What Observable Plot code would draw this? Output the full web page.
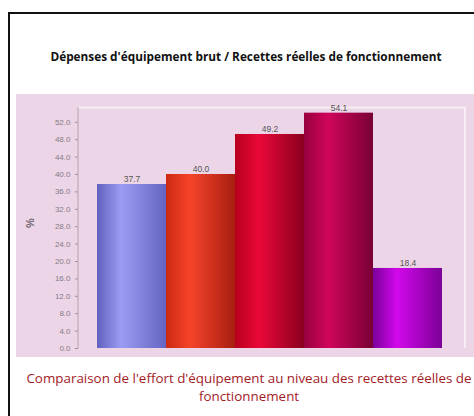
<!DOCTYPE html>
<html>
<head>
<meta charset="utf-8">
<script src="https://cdn.jsdelivr.net/npm/d3@7"></script>
<script src="https://cdn.jsdelivr.net/npm/@observablehq/plot@0.6"></script>
<style>
  html, body { margin: 0; padding: 0; background: #fff; }
  #page { position: relative; width: 474px; height: 416px; overflow: hidden; background: #fff; }
  #frame { position: absolute; left: 8px; top: 12px; width: 480px; height: 420px; border-left: 2px solid #111; border-top: 2px solid #111; box-sizing: border-box; }
  #title { position: absolute; left: 0px; width: 492px; top: 48px; text-align: center; font-family: "Open Sans", sans-serif; font-weight: bold; font-size: 11.8px; color: #111; }
  #panel { position: absolute; left: 16px; top: 94px; width: 458px; height: 263px; background: #ecd5e7; }
  #caption { position: absolute; left: 0px; width: 498px; top: 369px; text-align: center; font-family: "Open Sans", sans-serif; font-size: 13.4px; line-height: 18px; color: #a3201f; white-space: nowrap; }
</style>
</head>
<body>
<div id="page">
  <div id="frame"></div>
  <div id="title">Dépenses d'équipement brut / Recettes réelles de fonctionnement</div>
  <div id="panel"></div>
  <div id="caption">Comparaison de l'effort d'équipement au niveau des recettes réelles de<br>fonctionnement</div>
</div>
<script>
const categories = ["1", "2", "3", "4", "5"];
const values = [37.7, 40.0, 49.2, 54.1, 18.4];
const yTicks = [0, 4, 8, 12, 16, 20, 24, 28, 32, 36, 40, 44, 48, 52];
const yLabel = "%";

const gradients = [
  ["g0", "#6060c0", "#9c9cf4", "#6464c2"],
  ["g1", "#cc2a12", "#f5432a", "#a81e10"],
  ["g2", "#b8001e", "#ea0838", "#8a0020"],
  ["g3", "#98003c", "#d0065c", "#780034"],
  ["g4", "#7a009c", "#d208ec", "#7c0096"]
];

const data = categories.map((c, i) => ({cat: c, value: values[i], grad: `url(#${gradients[i][0]})`}));

const chart = Plot.plot({
  width: 458,
  height: 263,
  marginLeft: 62,
  marginTop: 13,
  marginRight: 9,
  marginBottom: 9,
  style: {background: "transparent", fontFamily: "Liberation Sans, Arial, sans-serif"},
  x: {domain: categories, paddingInner: 0, paddingOuter: 0.296, align: 0.46, axis: null},
  y: {domain: [0, 55.4], label: null},
  marks: [
    Plot.ruleY([55.4], {stroke: "#f6eef4", strokeWidth: 2}),
    Plot.barY(data, {x: "cat", y: "value", fill: "grad"}),
    Plot.text(data, {x: "cat", y: "value", text: d => d.value.toFixed(1), dy: -5, fill: "#555", fontSize: 8.5}),
    Plot.axisY({ticks: yTicks, tickFormat: d => d.toFixed(1), tickSize: 3, tickPadding: 5, stroke: "#9a8f98", fill: "#857b84", fontSize: 8, label: null}),
    Plot.text([yLabel], {frameAnchor: "left", dx: -48, rotate: -90, fontSize: 11, fontWeight: "bold", fill: "#6e646e"})
  ]
});

const svg = d3.select(chart);
const defs = svg.insert("defs", ":first-child");
for (const [id, a, b, c] of gradients) {
  const g = defs.append("linearGradient").attr("id", id).attr("x1", "0").attr("x2", "1").attr("y1", "0").attr("y2", "0");
  g.append("stop").attr("offset", "0").attr("stop-color", a);
  g.append("stop").attr("offset", "0.35").attr("stop-color", b);
  g.append("stop").attr("offset", "1").attr("stop-color", c);
}
// right frame line and left axis line
svg.append("line").attr("x1", 458 - 9).attr("x2", 458 - 9).attr("y1", 13).attr("y2", 263 - 9).attr("stroke", "#f6eef4").attr("stroke-width", 2);
svg.append("line").attr("x1", 62).attr("x2", 62).attr("y1", 13).attr("y2", 263 - 9).attr("stroke", "#b0a4ae").attr("stroke-width", 1);

chart.style.position = "absolute";
chart.style.left = "16px";
chart.style.top = "94px";
document.getElementById("page").appendChild(chart);
</script>
</body>
</html>
